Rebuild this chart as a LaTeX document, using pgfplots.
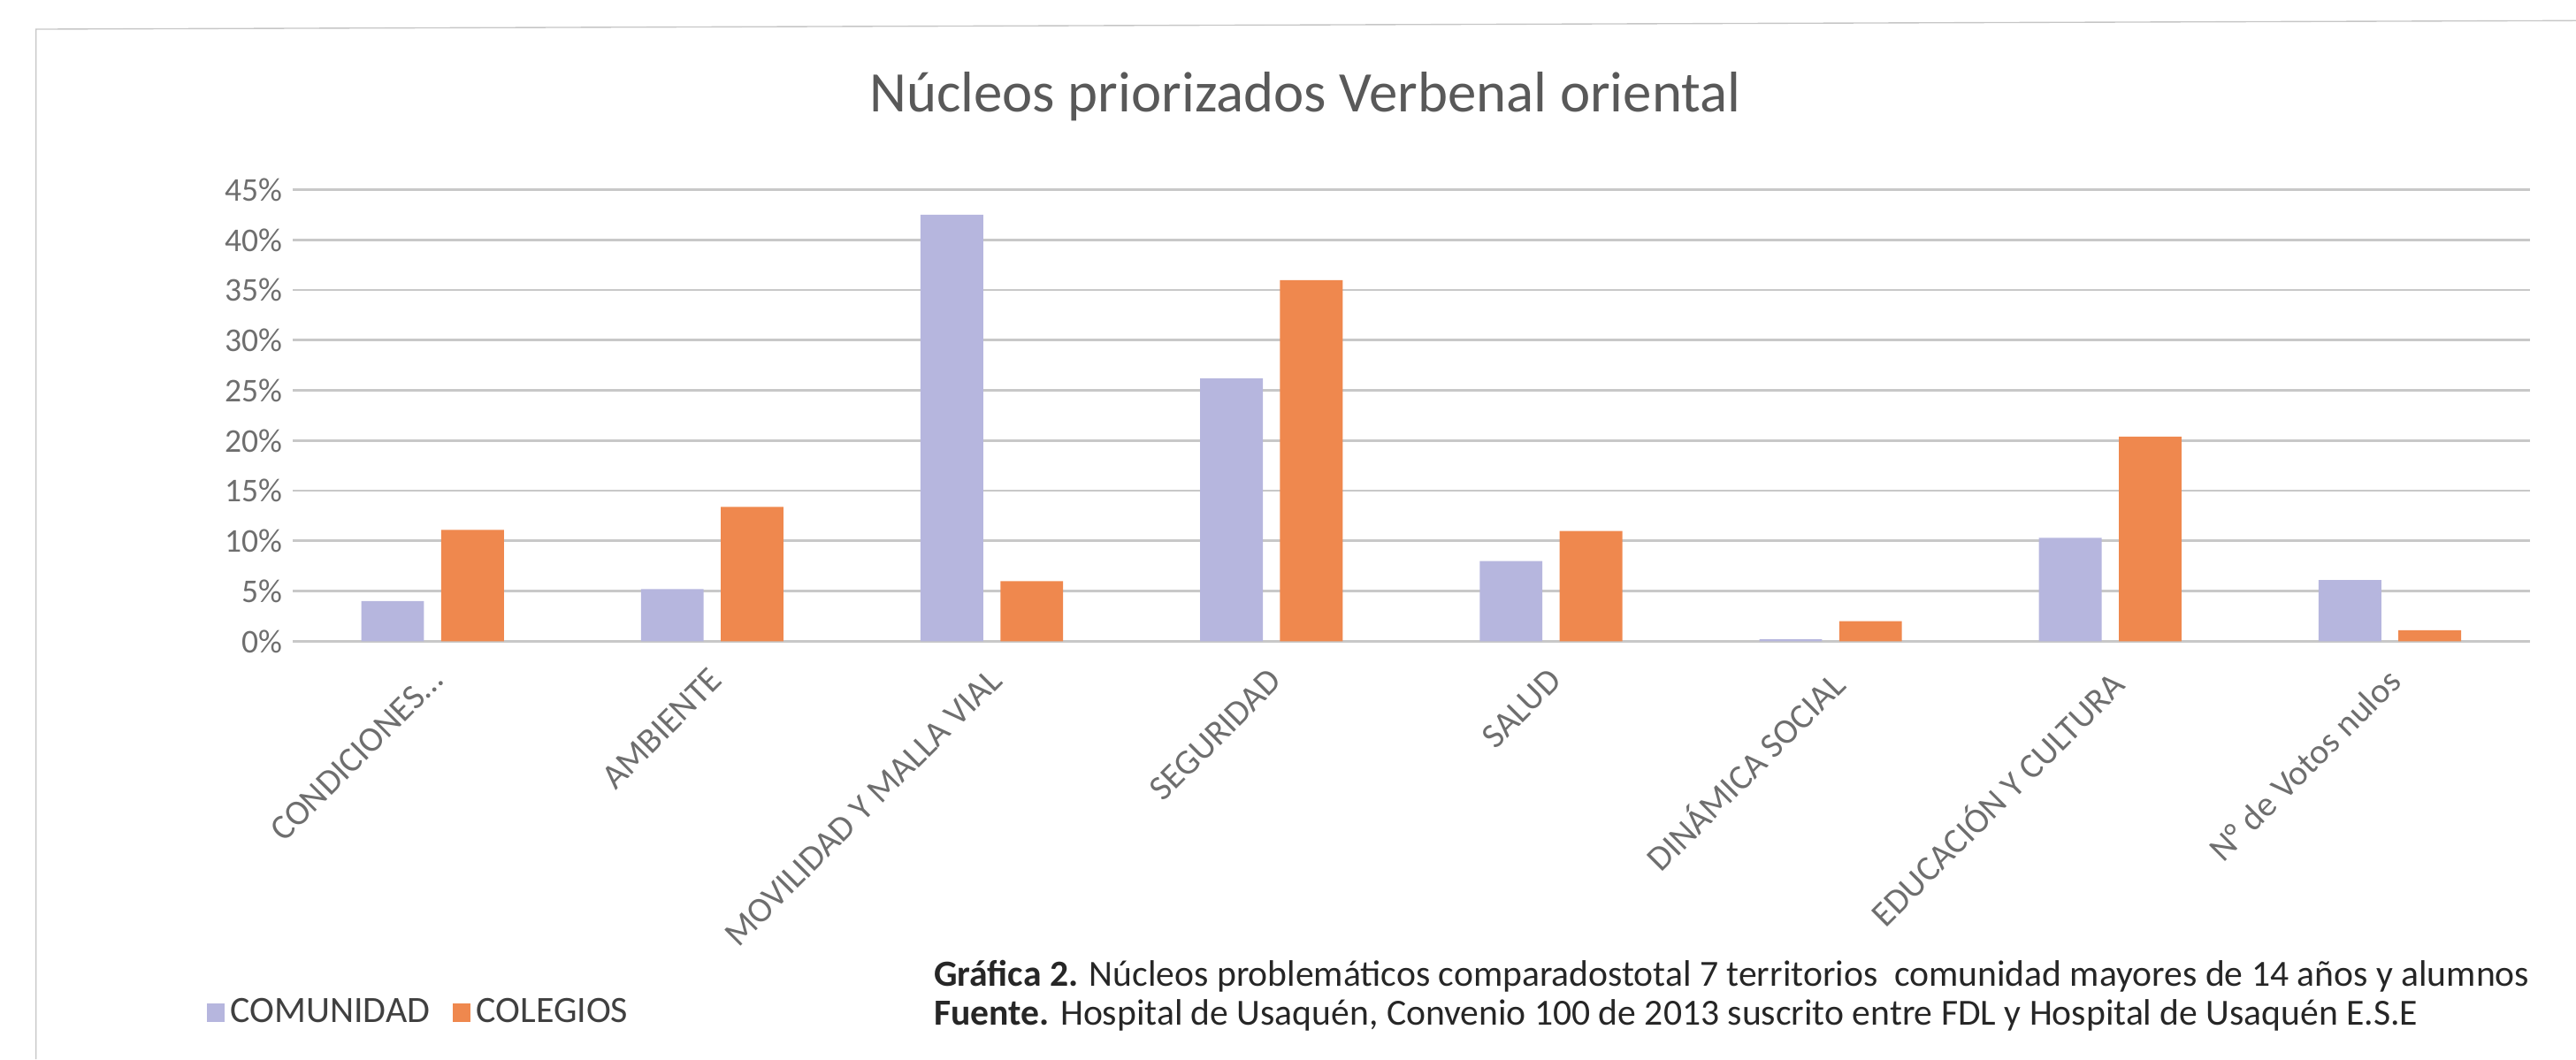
\documentclass[border=0pt]{standalone}
\usepackage{fontspec}
\setmainfont{Carlito}
\usepackage{pgfplots}
\pgfplotsset{compat=1.18}
\definecolor{comunidad}{RGB}{182,182,222}
\definecolor{colegios}{RGB}{239,136,78}
\definecolor{gridc}{RGB}{200,200,200}
\definecolor{labc}{RGB}{110,110,110}

\begin{document}
\begin{tikzpicture}
\useasboundingbox (0,0) rectangle (30cm,12.34cm);
\draw[gray!45] (0.42cm,0) -- (0.42cm,12.0cm) -- (30cm,12.1cm);
\begin{axis}[
    at={(3.41cm,4.87cm)}, anchor=south west,
    scale only axis, width=26.05cm, height=5.26cm,
    xmin=-0.5, xmax=7.5, ymin=0, ymax=45,
    ybar=0.2cm, bar width=0.73cm,
    axis line style={draw=none},
    major tick length=0pt,
    ymajorgrids, grid style={gridc, line width=0.8pt},
    ytick={0,5,...,45},
    yticklabel={\pgfmathprintnumber{\tick}\%},
    /pgf/number format/assume math mode=true,
    y tick label style={font=\fontsize{11}{13}\selectfont, text=labc},
    xtick={0,1,2,3,4,5,6,7},
    xticklabels={{CONDICIONES\ldots}, AMBIENTE, MOVILIDAD Y MALLA VIAL, SEGURIDAD, SALUD, DINÁMICA SOCIAL, EDUCACIÓN Y CULTURA, N° de Votos nulos},
    x tick label style={rotate=45, anchor=north east, xshift=-0.12cm, yshift=-0.05cm,
        font=\fontsize{11.7}{13}\selectfont, text=labc},
    area legend,
    legend image code/.code={\fill[#1] (0cm,-0.11cm) rectangle (0.2cm,0.11cm);},
    legend style={draw=none, fill=none, legend columns=2, at={(-0.0426,-0.823)}, anchor=west,
        font=\fontsize{12.3}{14}\selectfont, text=black!75,
        /tikz/every even column/.append style={column sep=0.2cm}},
]
\addplot[fill=comunidad, draw=none] coordinates {
    (0,4.0) (1,5.2) (2,42.5) (3,26.2) (4,8.0) (5,0.2) (6,10.3) (7,6.1)
};
\addlegendentry{COMUNIDAD}
\addplot[fill=colegios, draw=none] coordinates {
    (0,11.1) (1,13.4) (2,6.0) (3,36.0) (4,11.0) (5,2.0) (6,20.4) (7,1.1)
};
\addlegendentry{COLEGIOS}
\end{axis}
\node[anchor=base, font=\fontsize{19}{21}\selectfont, text=black!65] at (15.2cm,11.04cm) {Núcleos priorizados Verbenal oriental};
\node[anchor=base west, font=\fontsize{12.2}{14}\selectfont, text=black!85, inner sep=0pt] at (10.87cm,0.85cm)
    {\textbf{Gráfica 2.} Núcleos problemáticos comparadostotal 7 territorios\ \ comunidad mayores de 14 años y alumnos};
\node[anchor=base west, font=\fontsize{12.2}{14}\selectfont, text=black!85, inner sep=0pt] at (10.87cm,0.40cm)
    {\textbf{Fuente.} Hospital de Usaquén, Convenio 100 de 2013 suscrito entre FDL y Hospital de Usaquén E.S.E};
\end{tikzpicture}
\end{document}
